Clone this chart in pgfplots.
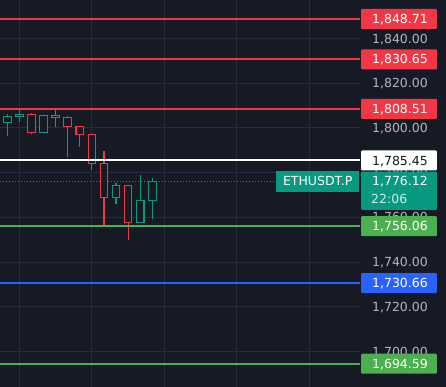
\documentclass[border=0pt]{standalone}
\usepackage{pgfplots}
\pgfplotsset{compat=1.18}
\usepackage{fontspec}
\setmainfont{DejaVu Sans}
\definecolor{bg}{RGB}{22,26,37}
\definecolor{gridc}{RGB}{40,44,56}
\definecolor{tvred}{RGB}{242,54,69}
\definecolor{tvteal}{RGB}{8,153,129}
\definecolor{tvgreen}{RGB}{76,175,80}
\definecolor{tvblue}{RGB}{41,98,255}
\definecolor{ticktext}{RGB}{178,181,190}
\definecolor{darktext}{RGB}{19,23,34}
% candle: colour, x, low, body low, body high, high
\newcommand{\candle}[6]{%
  \pgfmathsetmacro{\xl}{#2-3.8}\pgfmathsetmacro{\xr}{#2+3.8}%
  \addplot[#1, line width=1.1pt] coordinates {(#2,#3) (#2,#6)};
  \edef\candlebody{\noexpand\addplot[#1, line width=1.1pt, fill=bg, line join=miter]
    coordinates {(\xl,#4) (\xr,#4) (\xr,#5) (\xl,#5) (\xl,#4) (\xr,#4)};}%
  \candlebody}
% price box: fill, text colour, value, text
\newcommand{\pricebox}[4]{%
  \node[fill=#1, minimum width=75.7pt, minimum height=20pt, inner sep=0pt,
    anchor=west, rounded corners=1pt] at (axis cs:1,#3) {};
  \node[text=#2, anchor=east, inner sep=0pt, text height=9.1pt, text depth=0pt]
    at (axis cs:68,#3) {#4};}
\begin{document}
\begin{tikzpicture}[font=\fontsize{12.5}{15}\selectfont]
\fill[bg] (0,0) rectangle (446pt,387pt);
\begin{scope}
\clip (0,0) rectangle (446pt,387pt);
% ---------- main chart ----------
\begin{axis}[at={(0pt,0pt)}, anchor=south west, scale only axis,
  width=360pt, height=387pt,
  xmin=0, xmax=360, ymin=1684.18, ymax=1857.2,
  axis line style={draw=none}, tick style={draw=none}, major tick length=0pt,
  xtick={19.3,91.6,164,236.5,309},
  ytick={1700,1720,1740,1760,1780,1800,1820,1840},
  xticklabel=\empty, yticklabel=\empty,
  grid=major, major grid style={gridc, line width=1pt}]
\addplot[tvteal, line width=1.3pt, dash pattern=on 1.3pt off 1.7pt]
  coordinates {(0,1776.12) (276,1776.12)};
\candle{tvteal}{7.3}{1796.4}{1802.3}{1805.1}{1806.4}
\candle{tvteal}{19.4}{1802.7}{1805.1}{1806.2}{1807.9}
\candle{tvred}{31.5}{1797.3}{1797.8}{1806.0}{1806.9}
\candle{tvteal}{43.5}{1797.8}{1797.8}{1805.6}{1805.6}
\candle{tvred}{55.6}{1800.5}{1804.5}{1805.6}{1807.9}
\candle{tvred}{67.7}{1787.0}{1800.5}{1804.7}{1805.3}
\candle{tvred}{79.8}{1791.5}{1797.0}{1800.6}{1800.6}
\candle{tvred}{91.9}{1781.1}{1784.0}{1797.0}{1797.0}
\candle{tvred}{104.0}{1755.7}{1768.8}{1784.0}{1789.6}
\candle{tvteal}{116.0}{1766.0}{1768.8}{1774.2}{1775.4}
\candle{tvred}{128.1}{1749.9}{1757.6}{1774.2}{1774.6}
\candle{tvteal}{140.2}{1757.6}{1757.6}{1767.5}{1778.8}
\candle{tvteal}{152.3}{1759.3}{1767.5}{1776.1}{1777.8}
\addplot[tvred, line width=2pt] coordinates {(0,1848.71) (360,1848.71)};
\addplot[tvred, line width=2pt] coordinates {(0,1830.65) (360,1830.65)};
\addplot[tvred, line width=2pt] coordinates {(0,1808.51) (360,1808.51)};
\addplot[white, line width=2pt] coordinates {(0,1785.45) (360,1785.45)};
\addplot[tvgreen, line width=2pt] coordinates {(0,1756.06) (360,1756.06)};
\addplot[tvblue, line width=2pt] coordinates {(0,1730.66) (360,1730.66)};
\addplot[tvgreen, line width=2pt] coordinates {(0,1694.59) (360,1694.59)};
\node[fill=tvteal, text=white, anchor=west, inner xsep=0pt, minimum width=83pt,
  minimum height=21pt, text height=9.1pt, text depth=0pt]
  at (axis cs:276,1776.12) {ETHUSDT.P};
\end{axis}
% ---------- price scale ----------
\begin{axis}[at={(360pt,0pt)}, anchor=south west, scale only axis,
  width=86pt, height=387pt,
  xmin=0, xmax=86, ymin=1684.18, ymax=1857.2,
  axis line style={draw=none}, tick style={draw=none}, major tick length=0pt,
  xtick=\empty,
  ytick={1700,1720,1740,1760,1780,1800,1820,1840},
  yticklabel pos=right,
  yticklabel style={anchor=east, xshift=-18pt, inner sep=0pt,
    text height=9.1pt, text depth=0pt,
    font=\fontsize{12.5}{15}\selectfont, text=ticktext},
  /pgf/number format/.cd, fixed, fixed zerofill, precision=2,
  1000 sep={,}, assume math mode=true]
\end{axis}
% ---------- price labels ----------
\begin{axis}[at={(360pt,0pt)}, anchor=south west, scale only axis,
  width=86pt, height=387pt, hide axis,
  xmin=0, xmax=86, ymin=1684.18, ymax=1857.2]
\pricebox{tvred}{white}{1848.71}{1,848.71}
\pricebox{tvred}{white}{1830.65}{1,830.65}
\pricebox{tvred}{white}{1808.51}{1,808.51}
\pricebox{white}{darktext}{1785.45}{1,785.45}
\node[fill=tvteal, minimum width=75.7pt, minimum height=38.3pt, inner sep=0pt,
  anchor=north west, rounded corners=1pt] at (axis cs:1,1780.61) {};
\node[text=white, anchor=east, inner sep=0pt, text height=9.1pt, text depth=0pt]
  at (axis cs:68,1776.12) {1,776.12};
\node[text=white, opacity=0.8, anchor=west, inner sep=0pt, text height=9.1pt, text depth=0pt]
  at (axis cs:11,1768.4) {22:06};
\pricebox{tvgreen}{white}{1756.06}{1,756.06}
\pricebox{tvblue}{white}{1730.66}{1,730.66}
\pricebox{tvgreen}{white}{1694.59}{1,694.59}
\end{axis}
\end{scope}
\pgfresetboundingbox
\useasboundingbox (0,0) rectangle (446pt,387pt);
\end{tikzpicture}
\end{document}
